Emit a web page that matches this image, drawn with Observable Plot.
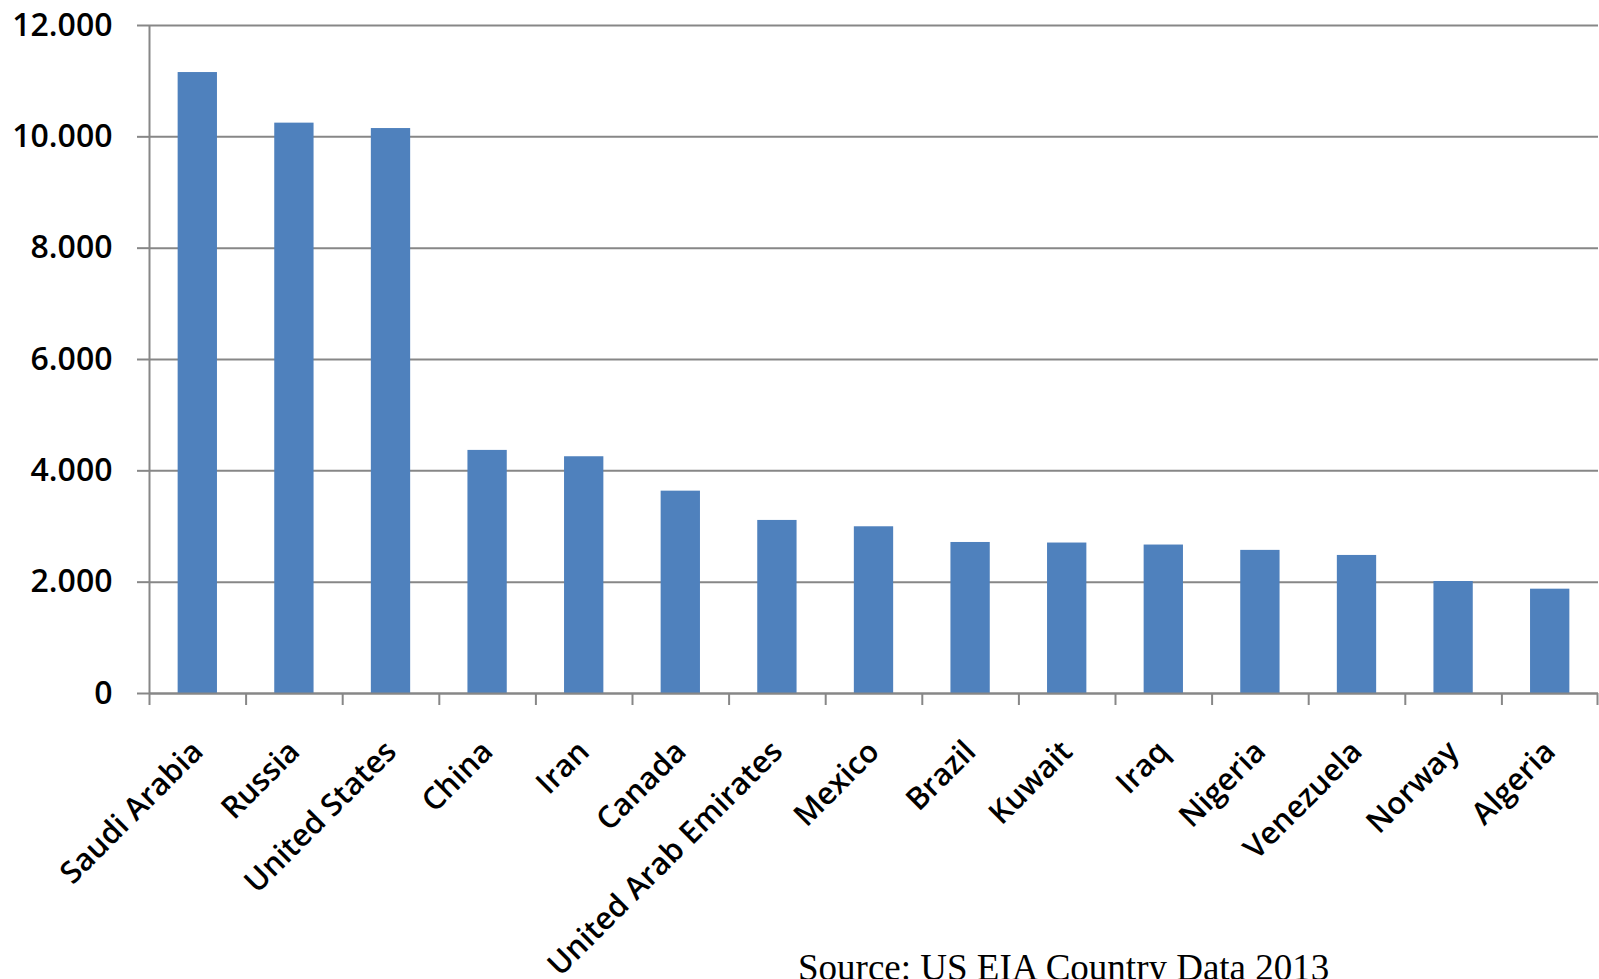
<!DOCTYPE html>
<html>
<head>
<meta charset="utf-8">
<script src="https://cdn.jsdelivr.net/npm/d3@7"></script>
<script src="https://cdn.jsdelivr.net/npm/@observablehq/plot@0.6"></script>
<style>
  html, body { margin: 0; padding: 0; background: #fff; overflow: hidden; }
  #chart { position: relative; width: 1599px; height: 979px; }
  #source {
    position: absolute; left: 798px; top: 949px;
    font-family: "Liberation Serif", "Times New Roman", serif;
    font-size: 37px; line-height: 37px; white-space: nowrap; color: #000;
  }
</style>
</head>
<body>
<div id="chart"></div>
<script>
// Oil production by country (thousand barrels per day), 2013
const countries = [
  "Saudi Arabia", "Russia", "United States", "China", "Iran", "Canada",
  "United Arab Emirates", "Mexico", "Brazil", "Kuwait", "Iraq", "Nigeria",
  "Venezuela", "Norway", "Algeria"
];
const production = [
  11155, 10246, 10149, 4367, 4253, 3635,
  3109, 2995, 2713, 2703, 2667, 2571,
  2480, 2012, 1874
];
const yTicks = [0, 2000, 4000, 6000, 8000, 10000, 12000];
const sourceNote = "Source: US EIA Country Data 2013";

const rows = countries.map((country, i) => ({country, value: production[i]}));

const W = 1599, H = 979;
const mLeft = 149, mRight = 1, mTop = 25, mBottom = 286;
const padInner = 0.593, padOuter = padInner / 2;
const gray = "#878787";

// Category step, used to place tick marks on the boundaries between bars
const step = d3.scaleBand()
  .domain(countries)
  .range([mLeft, W - mRight])
  .paddingInner(padInner)
  .paddingOuter(padOuter)
  .step();

// Thousands separated by a dot
const fmt = d3.formatLocale({decimal: ",", thousands: ".", grouping: [3], currency: ["", ""]}).format(",d");

const chart = Plot.plot({
  width: W,
  height: H,
  marginLeft: mLeft,
  marginRight: mRight,
  marginTop: mTop,
  marginBottom: mBottom,
  style: {fontFamily: "'Open Sans', sans-serif", background: "#fff", color: "#000"},
  x: {type: "band", domain: countries, paddingInner: padInner, paddingOuter: padOuter, round: false, label: null},
  y: {domain: [0, 12000], label: null},
  marks: [
    Plot.gridY(yTicks, {stroke: gray, strokeOpacity: 1, strokeWidth: 2}),
    Plot.barY(rows, {x: "country", y: "value", fill: "#4F81BD"}),
    // vertical value axis line
    Plot.ruleX([countries[0]], {x: d => d, dx: -step / 2, stroke: gray, strokeWidth: 2}),
    // baseline
    Plot.ruleY([0], {stroke: gray, strokeWidth: 2}),
    // category boundary ticks below the baseline
    Plot.ruleX(countries, {x: d => d, dx: -step / 2, y1: 0, y2: 0, insetBottom: -12, stroke: gray, strokeWidth: 2}),
    Plot.ruleX([countries[countries.length - 1]], {x: d => d, dx: step / 2 - 1, y1: 0, y2: 0, insetBottom: -12, stroke: gray, strokeWidth: 2}),
    Plot.axisY({
      ticks: yTicks, tickSize: 12, tickPadding: 25, tickFormat: fmt,
      fontSize: 32, fontWeight: 600, stroke: gray, strokeWidth: 2, label: null
    }),
    Plot.axisX({
      tickSize: 0, tickPadding: 53, tickRotate: -45,
      fontSize: 30.7, fontWeight: 600, label: null
    })
  ]
});

const holder = document.getElementById("chart");
holder.appendChild(chart);
const src = document.createElement("div");
src.id = "source";
src.textContent = sourceNote;
holder.appendChild(src);
</script>
</body>
</html>
